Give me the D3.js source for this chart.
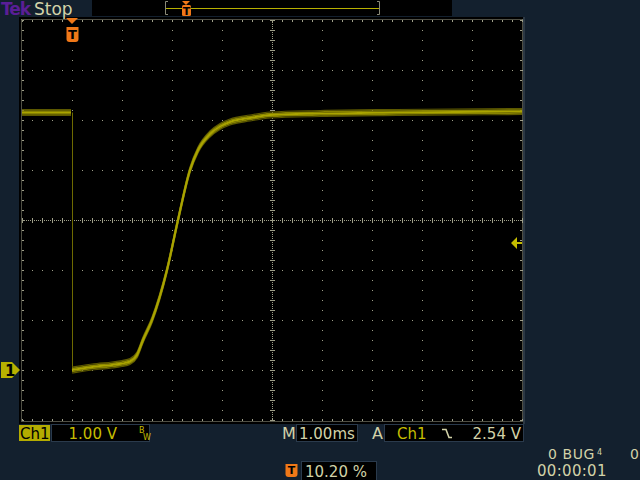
<!DOCTYPE html>
<html><head><meta charset="utf-8">
<script src="https://cdn.jsdelivr.net/npm/d3@7"></script>
<style>html,body{margin:0;padding:0;background:#13202e;}svg{display:block;}</style>
</head><body>
<script>
// ---- data ----
const timeDomain = [-1, 9];          // ms, 10 divisions of 1.00 ms
const voltDomain = [-1, 7];          // V, 8 divisions of 1.00 V
const preTimes = [-1.0, -0.5, -0.02];
const preVolts = [5.15, 5.15, 5.15];
const postTimes = [0.0, 0.2, 0.5, 0.8, 1.0, 1.16, 1.3, 1.42, 1.6, 1.9, 2.12, 2.36, 2.52, 2.76, 2.96, 3.16, 3.56, 3.96, 4.96, 6.5, 9.0];
const postVolts = [0.0, 0.03, 0.07, 0.1, 0.13, 0.17, 0.3, 0.6, 1.0, 2.0, 3.0, 4.0, 4.4, 4.72, 4.87, 4.96, 5.04, 5.1, 5.13, 5.15, 5.17];
const triggerLevel = 2.54;
const triggerTime = 0;
const labels = {brand: "Tek", state: "Stop", ch: "Ch1", vdiv: "1.00 V", tdiv: "1.00ms",
  trigSrc: "Ch1", trigVal: "2.54 V", pos: "10.20 %", bug: "0 BUG", right0: "0", clock: "00:00:01"};

const W = 640, H = 480;
const svg = d3.select("body").append("svg").attr("width", W).attr("height", H);
const font = "'DejaVu Sans', sans-serif";
const khaki = "#d2d2a8", yellow = "#c4bc00", orange = "#f07818", gridC = "#9e9e88";

svg.append("rect").attr("width", W).attr("height", H).attr("fill", "#13202e");

const x = d3.scaleLinear().domain(timeDomain).range([22, 522]);
const y = d3.scaleLinear().domain(voltDomain).range([420, 20]);

// plot area
svg.append("rect").attr("x", 19).attr("y", 17).attr("width", 506).attr("height", 407).attr("fill", "#000");
svg.append("rect").attr("x", 523).attr("y", 17).attr("width", 2).attr("height", 407).attr("fill", "#2c3844");

const g = svg.append("g");
const xt = d3.range(timeDomain[0], timeDomain[1] + 1);
const yt = d3.range(voltDomain[0], voltDomain[1] + 1);
const xc = (timeDomain[0] + timeDomain[1]) / 2, yc = (voltDomain[0] + voltDomain[1]) / 2;
const X0 = x(timeDomain[0]), X1 = x(timeDomain[1]), Y0 = y(voltDomain[1]), Y1 = y(voltDomain[0]);

// regular grid dots
xt.forEach(t => {
  if (t === timeDomain[0] || t === timeDomain[1] || t === xc) return;
  g.append("line").attr("x1", x(t) + 0.5).attr("x2", x(t) + 0.5).attr("y1", Y0).attr("y2", Y1 + 1)
    .attr("stroke", gridC).attr("stroke-dasharray", "1,9");
});
yt.forEach(v => {
  if (v === voltDomain[0] || v === voltDomain[1] || v === yc) return;
  g.append("line").attr("y1", y(v) + 0.5).attr("y2", y(v) + 0.5).attr("x1", X0).attr("x2", X1 + 1)
    .attr("stroke", gridC).attr("stroke-dasharray", "1,9");
});
// center lines dense dotted with ticks
g.append("line").attr("x1", x(xc) + 0.5).attr("x2", x(xc) + 0.5).attr("y1", Y0).attr("y2", Y1)
  .attr("stroke", gridC).attr("stroke-dasharray", "1,1");
g.append("line").attr("y1", y(yc) + 0.5).attr("y2", y(yc) + 0.5).attr("x1", X0).attr("x2", X1)
  .attr("stroke", gridC).attr("stroke-dasharray", "1,1");
d3.range(Y0, Y1 + 1, 10).forEach(p => {
  g.append("line").attr("x1", x(xc) - 2).attr("x2", x(xc) + 3).attr("y1", p + 0.5).attr("y2", p + 0.5).attr("stroke", gridC);
});
d3.range(X0, X1 + 1, 10).forEach(p => {
  g.append("line").attr("y1", y(yc) - 2).attr("y2", y(yc) + 3).attr("x1", p + 0.5).attr("x2", p + 0.5).attr("stroke", gridC);
});
// border
const bL = X0 - 1, bR = X1, bT = Y0 - 1, bB = Y1 + 1;
[[bL, bT, bR, bT], [bL, bB, bR, bB], [bL, bT, bL, bB], [bR, bT, bR, bB]].forEach(d => {
  g.append("line").attr("x1", d[0] + 0.5).attr("y1", d[1] + 0.5).attr("x2", d[2] + 0.5).attr("y2", d[3] + 0.5)
    .attr("stroke", gridC).attr("stroke-dasharray", "1,1");
});
d3.range(X0, X1 + 1, 10).forEach(p => {
  g.append("line").attr("x1", p + 0.5).attr("x2", p + 0.5).attr("y1", bT + 1).attr("y2", bT + 3).attr("stroke", gridC);
  g.append("line").attr("x1", p + 0.5).attr("x2", p + 0.5).attr("y1", bB - 2).attr("y2", bB).attr("stroke", gridC);
});
d3.range(Y0, Y1 + 1, 10).forEach(p => {
  g.append("line").attr("y1", p + 0.5).attr("y2", p + 0.5).attr("x1", bL + 1).attr("x2", bL + 3).attr("stroke", gridC);
  g.append("line").attr("y1", p + 0.5).attr("y2", p + 0.5).attr("x1", bR - 2).attr("x2", bR).attr("stroke", gridC);
});

// trace
const line = d3.line().x(d => x(d[0])).y(d => y(d[1])).curve(d3.curveMonotoneX);
const pre = preTimes.map((t, i) => [t, preVolts[i]]);
const post = postTimes.map((t, i) => [t, postVolts[i]]);
const tr = svg.append("g");
tr.append("line").attr("x1", x(triggerTime) + 0.5).attr("x2", x(triggerTime) + 0.5)
  .attr("y1", y(preVolts[preVolts.length - 1])).attr("y2", y(postVolts[0]))
  .attr("stroke", "#6e6a00").attr("stroke-width", 1);
const layers = [[-3, "#5c5800", 1.2], [3, "#5c5800", 1.2], [-1.6, "#878200", 1.5], [1.6, "#878200", 1.5], [0, "#aaa400", 2]];
[pre, post].forEach(data => {
  layers.forEach(([dy, c, w]) => {
    tr.append("path").datum(data).attr("d", line).attr("transform", `translate(0,${dy})`)
      .attr("fill", "none").attr("stroke", c).attr("stroke-width", w);
  });
});

// trigger level arrow (right)
const ty = y(triggerLevel);
svg.append("path").attr("d", `M511,${ty} L517,${ty - 6} L517,${ty - 1} L522,${ty - 1} L522,${ty + 1} L517,${ty + 1} L517,${ty + 6} Z`).attr("fill", yellow);

// ground marker (left)
const gy = y(0);
svg.append("path").attr("d", `M1,${gy - 8} L12,${gy - 8} L20,${gy} L12,${gy + 8} L1,${gy + 8} Z`).attr("fill", "#b8b000");
svg.append("text").attr("x", 5).attr("y", gy + 6).text("1").attr("font-family", font).attr("font-weight", "bold").attr("font-size", 15).attr("fill", "#000");

// trigger position marker (top of plot)
const tx = x(triggerTime);
function tMarker(cx, top, w, h) {
  svg.append("path").attr("d", `M${cx - w / 2},${top} h${w} v${h - 3} q0,3 -3,3 h${-(w - 6)} q-3,0 -3,-3 Z`).attr("fill", orange);
  svg.append("text").attr("x", cx).attr("y", top + h - 3).attr("text-anchor", "middle").text("T")
    .attr("font-family", font).attr("font-weight", "bold").attr("font-size", h - 2).attr("fill", "#000");
}
svg.append("path").attr("d", `M${tx - 6},18 L${tx + 6},18 L${tx},24 Z`).attr("fill", orange);
tMarker(tx + 0.5, 27, 12, 15);

// top bar
svg.append("text").attr("x", 1).attr("y", 15).text(labels.brand).attr("font-family", font).attr("font-weight", "bold").attr("font-size", 17).attr("fill", "#5a1e96").attr("letter-spacing", -1);
svg.append("text").attr("x", 34).attr("y", 15).text(labels.state).attr("font-family", font).attr("font-size", 17).attr("fill", khaki);
svg.append("rect").attr("x", 92).attr("y", 0).attr("width", 360).attr("height", 16).attr("fill", "#000");
svg.append("line").attr("x1", 166).attr("x2", 379).attr("y1", 8.5).attr("y2", 8.5).attr("stroke", "#b8b000").attr("stroke-width", 1);
svg.append("path").attr("d", "M168,1.5 H165.5 V14.5 H168 M377,1.5 H379.5 V14.5 H377").attr("fill", "none").attr("stroke", "#8a8a78");
svg.append("path").attr("d", "M182,1 L190,1 L186,5 Z").attr("fill", orange);
svg.append("rect").attr("x", 182).attr("y", 5).attr("width", 9).attr("height", 11).attr("fill", orange).attr("rx", 1.5);
svg.append("text").attr("x", 186.5).attr("y", 14.5).attr("text-anchor", "middle").text("T").attr("font-family", font).attr("font-size", 11).attr("font-weight", "bold").attr("fill", "#000");

// bottom status
function box(x0, y0, w, h) {
  svg.append("rect").attr("x", x0 + 0.5).attr("y", y0 + 0.5).attr("width", w).attr("height", h).attr("fill", "#000").attr("stroke", "#2a3a4c");
}
function txt(x0, y0, s, c, size, anchor) {
  return svg.append("text").attr("x", x0).attr("y", y0).text(s).attr("font-family", font).attr("font-size", size || 15)
    .attr("fill", c).attr("text-anchor", anchor || "start");
}
svg.append("rect").attr("x", 19).attr("y", 425).attr("width", 31).attr("height", 16).attr("fill", "#b4ac00");
txt(20, 439, labels.ch, "#000", 15);
box(51, 424, 98, 17);
txt(117, 439, labels.vdiv, yellow, 15, "end");
txt(139, 433, "B", yellow, 8);
txt(143, 440, "W", yellow, 8);
txt(282, 439, "M", khaki, 16);
box(296, 424, 61, 17);
txt(299, 439, labels.tdiv, khaki, 15);
txt(372, 439, "A", khaki, 16);
box(384, 424, 139, 17);
txt(397, 439, labels.trigSrc, yellow, 15);
svg.append("path").attr("d", "M442,429.5 H446 L449,437.5 H452").attr("fill", "none").attr("stroke", khaki).attr("stroke-width", 1.6);
txt(521, 439, labels.trigVal, khaki, 15, "end");

txt(548, 459, labels.bug, khaki, 14).attr("letter-spacing", 0.6);
txt(597, 455, "4", khaki, 8);
txt(630, 459, labels.right0, khaki, 14);
txt(537, 476, labels.clock, khaki, 15).attr("letter-spacing", 0.3);
tMarker(291.5, 464, 12, 13);
box(301, 461, 75, 19);
txt(305, 477, labels.pos, khaki, 15);
</script>
</body></html>
